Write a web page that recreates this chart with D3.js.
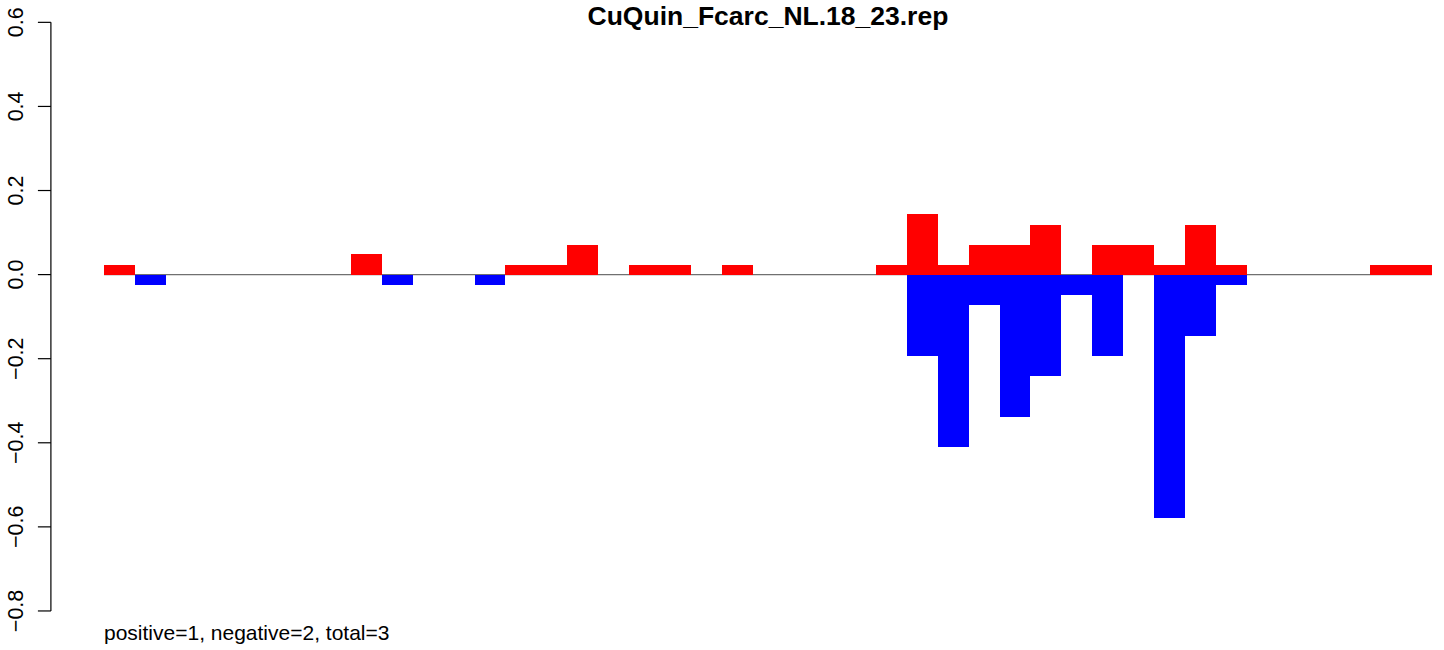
<!DOCTYPE html>
<html>
<head>
  <meta charset="utf-8">
  <title>CuQuin_Fcarc_NL.18_23.rep</title>
  <style>
    body { margin: 0; background: #fff; }
    text { font-family: "Liberation Sans", Arial, Helvetica, sans-serif; fill: #000; }
    .title { font-size: 26.5px; font-weight: bold; }
    .tick-label { font-size: 21.5px; }
    .note { font-size: 21px; }
    .bar { shape-rendering: crispEdges; }
  </style>
  <script src="https://d3js.org/d3.v7.min.js"></script>
</head>
<body>
  <script>
    // values, one entry per bin (43 bins)
    var positive = [
      0.024, 0, 0, 0, 0, 0, 0, 0, 0.048, 0,
      0, 0, 0, 0.024, 0.024, 0.071, 0, 0.024, 0.024, 0,
      0.024, 0, 0, 0, 0, 0.024, 0.143, 0.024, 0.071, 0.071,
      0.119, 0, 0.071, 0.071, 0.024, 0.119, 0.024, 0, 0, 0,
      0, 0.024, 0.024
    ];
    var negative = [
      0, -0.024, 0, 0, 0, 0, 0, 0, 0, -0.024,
      0, 0, -0.024, 0, 0, 0, 0, 0, 0, 0,
      0, 0, 0, 0, 0, 0, -0.194, -0.41, -0.073, -0.338,
      -0.24, -0.048, -0.194, 0, -0.578, -0.146, -0.024, 0, 0, 0,
      0, 0, 0
    ];
    var yTicks = [-0.8, -0.6, -0.4, -0.2, 0.0, 0.2, 0.4, 0.6];
    var title = "CuQuin_Fcarc_NL.18_23.rep";
    var note = "positive=1, negative=2, total=3";

    var width = 1444, height = 650;
    var svg = d3.select("body").append("svg")
      .attr("width", width)
      .attr("height", height);

    var n = positive.length;
    // R style: limits padded by 4%
    var x = d3.scaleLinear().domain([-0.04 * n, n * 1.04]).range([50.9, 1485]);
    var y = d3.scaleLinear().domain([-0.856, 0.656]).range([634.5, -1.2]);

    // zero line
    svg.append("line")
      .attr("x1", x(0)).attr("x2", x(n))
      .attr("y1", y(0)).attr("y2", y(0))
      .attr("stroke", "#707070")
      .attr("stroke-width", 1.2);

    svg.selectAll(".neg")
      .data(negative)
      .enter().append("rect")
        .attr("class", "bar neg")
        .attr("x", (d, i) => x(i))
        .attr("width", (d, i) => x(i + 1) - x(i))
        .attr("y", y(0))
        .attr("height", d => y(d) - y(0))
        .attr("fill", "#0000ff");

    svg.selectAll(".pos")
      .data(positive)
      .enter().append("rect")
        .attr("class", "bar pos")
        .attr("x", (d, i) => x(i))
        .attr("width", (d, i) => x(i + 1) - x(i))
        .attr("y", d => y(d))
        .attr("height", d => y(0) - y(d))
        .attr("fill", "#ff0000");

    // y axis, R look
    var axisX = x(-0.04 * n);
    var ax = svg.append("g");
    ax.append("line")
      .attr("x1", axisX).attr("x2", axisX)
      .attr("y1", y(yTicks[0])).attr("y2", y(yTicks[yTicks.length - 1]))
      .attr("stroke", "#000").attr("stroke-width", 1.2);
    ax.selectAll(".tick")
      .data(yTicks)
      .enter().append("line")
        .attr("x1", axisX - 13).attr("x2", axisX)
        .attr("y1", d => y(d)).attr("y2", d => y(d))
        .attr("stroke", "#000").attr("stroke-width", 1.2);
    ax.selectAll(".tick-label")
      .data(yTicks)
      .enter().append("text")
        .attr("class", "tick-label")
        .attr("text-anchor", "middle")
        .attr("transform", d => "translate(23," + y(d) + ") rotate(-90)")
        .text(d => d3.format(".1f")(d).replace("-", "\u2212"));

    // title sits at the very top, nudged down so it is not clipped
    svg.append("text")
      .attr("class", "title")
      .attr("x", (x.range()[0] + x.range()[1]) / 2)
      .attr("y", 25)
      .attr("text-anchor", "middle")
      .text(title);

    svg.append("text")
      .attr("class", "note")
      .attr("x", x(0))
      .attr("y", 640)
      .text(note);
  </script>
</body>
</html>
